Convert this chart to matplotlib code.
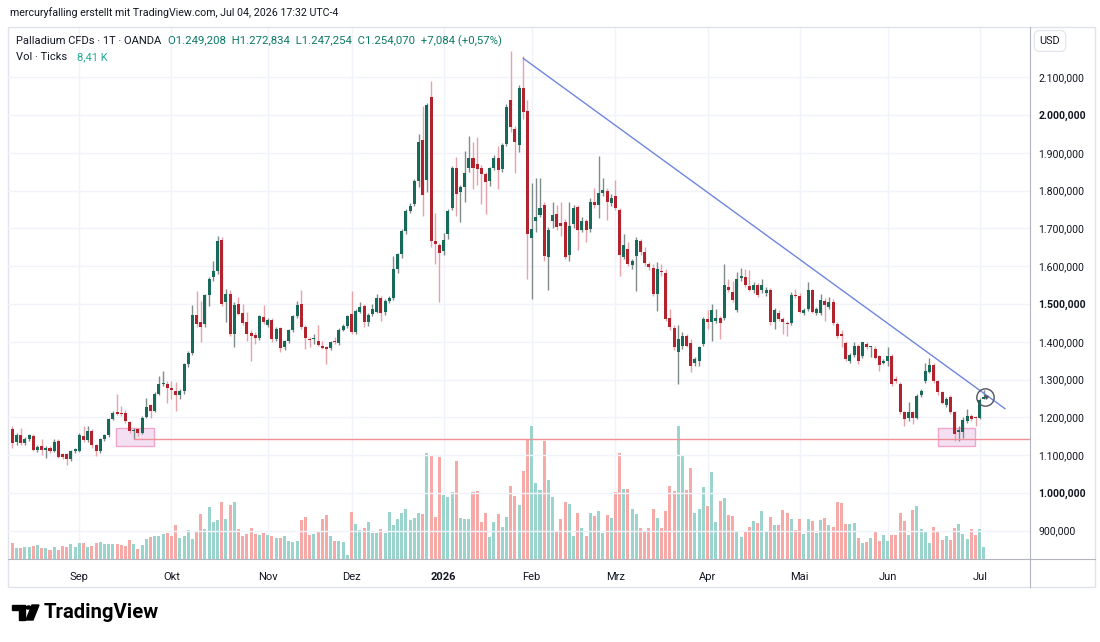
import numpy as np
import pandas as pd
import matplotlib
matplotlib.use("Agg")
import matplotlib.pyplot as plt
from matplotlib.patches import Rectangle, Circle, Polygon

plt.rcParams['font.family'] = ['Roboto', 'DejaVu Sans']

# Palladium CFD daily candles
opens = [1170, 1134, 1152, 1131, 1143, 1150, 1113, 1124, 1113, 1119,
         1112, 1137, 1102, 1102, 1089, 1111, 1112, 1150, 1139, 1165,
         1126, 1110, 1142, 1152, 1196, 1215, 1212, 1212, 1187, 1165,
         1168, 1159, 1201, 1232, 1217, 1263, 1287, 1289, 1277, 1270,
         1258, 1270, 1340, 1370, 1470, 1452, 1447, 1523, 1571, 1586,
         1668, 1505, 1527, 1421, 1500, 1476, 1452, 1424, 1417, 1410,
         1465, 1445, 1458, 1408, 1436, 1386, 1401, 1430, 1468, 1500,
         1440, 1408, 1408, 1403, 1390, 1386, 1383, 1402, 1397, 1432,
         1441, 1473, 1426, 1480, 1495, 1451, 1473, 1480, 1517, 1479,
         1508, 1515, 1592, 1632, 1694, 1747, 1764, 1826, 1934, 1829,
         2049, 1667, 1656, 1639, 1685, 1754, 1861, 1795, 1809, 1860,
         1885, 1870, 1861, 1844, 1826, 1859, 1885, 1856, 1923, 2039,
         1963, 1921, 2072, 2012, 1675, 1720, 1736, 1762, 1624, 1720,
         1737, 1713, 1718, 1630, 1711, 1756, 1697, 1720, 1698, 1771,
         1762, 1794, 1798, 1767, 1785, 1749, 1624, 1646, 1604, 1628,
         1667, 1637, 1606, 1595, 1526, 1586, 1581, 1463, 1436, 1374,
         1388, 1415, 1396, 1344, 1350, 1394, 1460, 1453, 1456, 1462,
         1463, 1544, 1531, 1483, 1568, 1571, 1547, 1536, 1551, 1536,
         1528, 1537, 1453, 1476, 1460, 1450, 1450, 1524, 1522, 1476,
         1487, 1537, 1476, 1476, 1509, 1491, 1506, 1447, 1421, 1397,
         1349, 1364, 1389, 1363, 1394, 1385, 1382, 1361, 1345, 1348,
         1363, 1301, 1289, 1214, 1197, 1213, 1199, 1259, 1295, 1321,
         1338, 1296, 1267, 1232, 1254, 1214, 1160, 1160, 1190, 1204,
         1199, 1199, 1249.2]
highs = [1177, 1159, 1172, 1147, 1157, 1155, 1128, 1142, 1124, 1124,
         1142, 1142, 1106, 1105, 1114, 1120, 1159, 1177, 1177, 1168,
         1130, 1146, 1156, 1199, 1218, 1261, 1230, 1220, 1190, 1172,
         1172, 1203, 1252, 1236, 1268, 1309, 1323, 1296, 1296, 1293,
         1274, 1345, 1375, 1496, 1533, 1509, 1527, 1572, 1613, 1681,
         1677, 1540, 1536, 1505, 1518, 1500, 1478, 1430, 1425, 1472,
         1498, 1462, 1463, 1440, 1440, 1405, 1434, 1472, 1507, 1536,
         1445, 1413, 1421, 1443, 1403, 1390, 1403, 1412, 1436, 1446,
         1472, 1535, 1486, 1504, 1500, 1475, 1500, 1526, 1522, 1512,
         1520, 1627, 1636, 1698, 1751, 1766, 1830, 1950, 2025, 2033,
         2091, 1742, 1662, 1689, 1750, 1866, 1888, 1815, 1906, 1945,
         1928, 1941, 1868, 1850, 1862, 1893, 1919, 1925, 2030, 2169,
         1970, 2079, 2155, 2039, 1820, 1834, 1834, 1770, 1705, 1771,
         1762, 1771, 1724, 1771, 1762, 1762, 1730, 1726, 1780, 1807,
         1892, 1834, 1807, 1790, 1829, 1755, 1684, 1664, 1620, 1678,
         1673, 1651, 1612, 1606, 1611, 1606, 1593, 1486, 1445, 1445,
         1425, 1420, 1407, 1360, 1390, 1465, 1483, 1500, 1487, 1468,
         1606, 1566, 1562, 1584, 1595, 1593, 1589, 1558, 1556, 1565,
         1545, 1542, 1490, 1483, 1465, 1455, 1531, 1540, 1528, 1490,
         1558, 1540, 1493, 1527, 1515, 1518, 1512, 1452, 1430, 1402,
         1370, 1398, 1395, 1400, 1400, 1389, 1389, 1365, 1355, 1385,
         1368, 1310, 1293, 1218, 1241, 1218, 1262, 1275, 1345, 1356,
         1345, 1300, 1270, 1253, 1258, 1218, 1177, 1202, 1221, 1208,
         1203, 1252, 1272.8]
lows = [1119, 1128, 1126, 1126, 1138, 1111, 1108, 1099, 1093, 1106,
        1108, 1092, 1090, 1075, 1085, 1105, 1108, 1135, 1134, 1120,
        1097, 1106, 1138, 1148, 1192, 1205, 1203, 1185, 1158, 1142,
        1150, 1155, 1198, 1199, 1213, 1258, 1282, 1239, 1248, 1218,
        1249, 1262, 1333, 1365, 1440, 1399, 1440, 1495, 1562, 1580,
        1495, 1452, 1415, 1386, 1470, 1445, 1403, 1350, 1394, 1405,
        1448, 1440, 1400, 1403, 1372, 1377, 1396, 1425, 1463, 1435,
        1381, 1386, 1394, 1388, 1380, 1341, 1377, 1395, 1392, 1428,
        1436, 1420, 1420, 1475, 1440, 1442, 1468, 1475, 1455, 1470,
        1503, 1510, 1583, 1622, 1685, 1742, 1758, 1809, 1733, 1795,
        1652, 1605, 1504, 1630, 1671, 1748, 1733, 1716, 1770, 1848,
        1804, 1815, 1764, 1738, 1812, 1854, 1804, 1850, 1918, 1955,
        1847, 1901, 1990, 1566, 1514, 1690, 1730, 1615, 1537, 1700,
        1695, 1680, 1620, 1615, 1700, 1642, 1690, 1664, 1690, 1755,
        1727, 1785, 1722, 1760, 1748, 1575, 1618, 1600, 1593, 1535,
        1630, 1600, 1590, 1520, 1481, 1575, 1455, 1430, 1378, 1288,
        1380, 1385, 1319, 1337, 1337, 1390, 1434, 1403, 1450, 1407,
        1458, 1532, 1505, 1480, 1562, 1545, 1533, 1530, 1518, 1530,
        1522, 1445, 1434, 1455, 1421, 1416, 1445, 1515, 1475, 1470,
        1482, 1475, 1470, 1470, 1456, 1486, 1445, 1410, 1385, 1348,
        1343, 1360, 1341, 1358, 1380, 1360, 1354, 1323, 1340, 1336,
        1284, 1290, 1208, 1177, 1190, 1182, 1195, 1254, 1290, 1316,
        1290, 1260, 1234, 1226, 1208, 1138, 1138, 1146, 1186, 1190,
        1177, 1195, 1247.3]
closes = [1133, 1152, 1133, 1143, 1152, 1113, 1122, 1113, 1119, 1112,
          1134, 1095, 1096, 1089, 1112, 1115, 1152, 1139, 1163, 1126,
          1111, 1142, 1152, 1196, 1212, 1210, 1208, 1190, 1164, 1165,
          1159, 1199, 1227, 1217, 1263, 1287, 1292, 1278, 1273, 1258,
          1270, 1340, 1370, 1470, 1447, 1440, 1523, 1567, 1586, 1666,
          1500, 1527, 1421, 1498, 1474, 1449, 1421, 1415, 1410, 1468,
          1452, 1458, 1408, 1434, 1383, 1401, 1430, 1468, 1498, 1440,
          1409, 1405, 1408, 1392, 1383, 1381, 1399, 1399, 1432, 1441,
          1468, 1426, 1482, 1491, 1453, 1470, 1486, 1517, 1477, 1508,
          1515, 1592, 1632, 1694, 1747, 1760, 1826, 1929, 1788, 2027,
          1667, 1660, 1636, 1669, 1745, 1861, 1791, 1809, 1846, 1885,
          1861, 1857, 1844, 1822, 1859, 1885, 1854, 1921, 2021, 1968,
          1928, 2072, 2008, 1684, 1698, 1729, 1753, 1628, 1695, 1736,
          1704, 1706, 1624, 1706, 1753, 1697, 1720, 1695, 1771, 1761,
          1794, 1801, 1770, 1780, 1754, 1630, 1655, 1606, 1615, 1669,
          1637, 1608, 1597, 1526, 1593, 1584, 1461, 1438, 1385, 1408,
          1414, 1390, 1335, 1354, 1385, 1460, 1453, 1485, 1462, 1450,
          1549, 1537, 1511, 1566, 1573, 1549, 1538, 1549, 1524, 1549,
          1537, 1453, 1484, 1459, 1452, 1447, 1524, 1521, 1480, 1485,
          1536, 1480, 1487, 1511, 1498, 1505, 1449, 1416, 1416, 1355,
          1364, 1389, 1348, 1398, 1385, 1385, 1358, 1338, 1349, 1363,
          1288, 1295, 1213, 1195, 1213, 1197, 1257, 1270, 1323, 1338,
          1296, 1266, 1239, 1248, 1213, 1155, 1166, 1192, 1204, 1195,
          1197, 1247, 1254.07]
# volume in ticks (relative bar heights as read)
volumes = [16, 11, 11, 12, 12, 13, 14, 11, 11, 9,
           12, 9, 13, 12, 15, 12, 16, 16, 12, 13,
           16, 17, 15, 15, 15, 15, 14, 13, 19, 15,
           10, 14, 20, 22, 23, 23, 25, 26, 23, 33,
           21, 23, 29, 20, 28, 44, 30, 51, 36, 38,
           56, 39, 53, 56, 30, 23, 25, 31, 25, 24,
           26, 24, 23, 21, 21, 23, 18, 17, 18, 38,
           41, 24, 25, 28, 39, 43, 23, 18, 18, 17,
           4, 46, 34, 29, 31, 36, 26, 26, 30, 26,
           46, 33, 39, 45, 49, 38, 40, 45, 44, 104,
           101, 41, 100, 63, 61, 66, 97, 40, 39, 39,
           66, 67, 36, 45, 22, 36, 44, 32, 41, 72,
           62, 53, 87, 117, 131, 75, 68, 116, 78, 61,
           27, 39, 56, 54, 23, 45, 31, 23, 45, 42,
           47, 26, 43, 40, 66, 104, 69, 69, 49, 44,
           31, 27, 31, 49, 40, 31, 47, 72, 67, 131,
           102, 68, 90, 45, 49, 71, 52, 86, 36, 57,
           60, 43, 42, 27, 22, 28, 32, 37, 35, 47,
           27, 41, 33, 33, 48, 45, 39, 29, 39, 25,
           39, 37, 26, 38, 40, 33, 32, 56, 55, 34,
           34, 35, 21, 16, 17, 21, 28, 18, 24, 18,
           24, 24, 45, 37, 24, 48, 52, 30, 28, 16,
           32, 27, 19, 23, 19, 31, 34, 25, 20, 30,
           24, 30, 12]

holidays = ['2025-12-25', '2026-01-01']
month_labels = {9: 'Sep', 10: 'Okt', 11: 'Nov', 12: 'Dez', 1: '2026', 2: 'Feb',
                3: 'Mrz', 4: 'Apr', 5: 'Mai', 6: 'Jun', 7: 'Jul'}
price_ticks = [900, 1000, 1100, 1200, 1300, 1400, 1500, 1600, 1700, 1800, 1900, 2000, 2100]

# drawings
support_level = 1142
support_from = 29
trend_x = [122, 237]
trend_y = [2150, 1223]
zone_bars = [(24.8, 33.8), (221.0, 229.9)]
zone_prices = (1123, 1172)
marker_bar, marker_price = 232.3, 1253

UP, DOWN = '#17695a', '#b3232e'
UP_WICK, DOWN_WICK = '#7f8c89', '#e6a3a9'
VOL_UP, VOL_DOWN = '#9bd4cd', '#f6aaa8'
GRID = '#f0f3fa'
TXT = '#131722'

W, H = 1100, 642
fig = plt.figure(figsize=(W / 100, H / 100), dpi=100)
fig.patch.set_facecolor('white')

dates = pd.bdate_range(end='2026-07-02', periods=len(closes), freq='C', holidays=holidays)
o = np.array(opens); c = np.array(closes); hi = np.array(highs); lo = np.array(lows)
idx = np.arange(len(c))
up = c >= o

ax = fig.add_axes([8 / W, 1 - 559 / H, (1030 - 8) / W, (559 - 27) / H])
axv = ax.twinx()
ax.set_zorder(axv.get_zorder() + 1)
ax.patch.set_visible(False)
axv.set_facecolor('white')

ax.set_xlim(-1.03, 243)
ax.set_ylim(825, 2233)
axv.set_ylim(0, max(volumes) * 4.0)

# month ticks at first trading day of each month
first_idx = [i for i in range(1, len(dates)) if dates[i].month != dates[i - 1].month]
ax.set_xticks(first_idx)
ax.set_xticklabels([month_labels[dates[i].month] for i in first_idx])
for lbl, i in zip(ax.get_xticklabels(), first_idx):
    if dates[i].month == 1:
        lbl.set_fontweight('bold')

# grid
for v in first_idx:
    axv.axvline(v, color=GRID, lw=1, zorder=0)
for p in price_ticks:
    ax.axhline(p, color=GRID, lw=1, zorder=0)

# volume
axv.bar(idx, volumes, width=0.72, color=np.where(up, VOL_UP, VOL_DOWN), zorder=1)
axv.set_yticks([])
axv.tick_params(length=0)

# candles
ax.vlines(idx, lo, hi, colors=np.where(up, UP_WICK, DOWN_WICK), lw=1, zorder=3)
body = np.maximum(np.abs(c - o), 2.5)
ax.bar(idx, body, bottom=np.minimum(o, c), width=0.72,
       color=np.where(up, UP, DOWN), zorder=4, linewidth=0)

# drawings
for x0, x1 in zone_bars:
    ax.add_patch(Rectangle((x0, zone_prices[0]), x1 - x0, zone_prices[1] - zone_prices[0],
                           facecolor='#f3e1f3', edgecolor='#f0a6c8', lw=1, zorder=2))
ax.plot([support_from, 243], [support_level, support_level], color='#ef8f98', lw=1, zorder=5)
ax.plot(trend_x, trend_y, color='#6f86e0', lw=1, zorder=5)
ax.plot([marker_bar], [marker_price], marker='o', ms=12.5, mfc='none', mec='#50535e',
        mew=1, zorder=6)
ax.annotate('', xy=(marker_bar - 0.8, marker_price + 11), xytext=(marker_bar + 0.9, marker_price - 5),
            arrowprops=dict(arrowstyle='-|>', color='#50535e', lw=0.8, mutation_scale=6), zorder=6)

for s in ['top', 'left', 'right', 'bottom']:
    ax.spines[s].set_visible(False)
    axv.spines[s].set_visible(False)

ax.yaxis.tick_right()
ax.set_yticks(price_ticks)
ax.set_yticklabels(['{:,.3f}'.format(p).replace(',', 'X').replace('.', ',').replace('X', '.')
                    for p in price_ticks])
for lbl, p in zip(ax.get_yticklabels(), price_ticks):
    if p % 500 == 0:
        lbl.set_fontweight('bold')
ax.tick_params(axis='y', length=0, pad=6, labelsize=7.6, labelcolor=TXT)
ax.tick_params(axis='x', length=0, pad=9, labelsize=8, labelcolor=TXT)

# frame lines
fig.add_artist(Rectangle((8 / W, 1 - 587 / H), (1095 - 8) / W, (587 - 27) / H,
                         transform=fig.transFigure, fill=False, edgecolor='#e0e3eb', lw=1))
fig.add_artist(plt.Line2D([1030 / W, 1030 / W], [1 - 27 / H, 1 - 587 / H],
                          transform=fig.transFigure, color='#b2b5be', lw=0.8))
fig.add_artist(plt.Line2D([8 / W, 1095 / W], [1 - 559 / H, 1 - 559 / H],
                          transform=fig.transFigure, color='#b2b5be', lw=0.8))

# header texts
fig.text(10 / W, 1 - 13 / H, 'mercuryfalling erstellt mit TradingView.com, Jul 04, 2026 17:32 UTC-4',
         fontsize=7.7, color=TXT, va='center', ha='left')
fig.text(16 / W, 1 - 41 / H, 'Palladium CFDs · 1T · OANDA', fontsize=8.0, color=TXT, va='center')
fig.text(168 / W, 1 - 41 / H, 'O1.249,208  H1.272,834  L1.247,254  C1.254,070  +7,084 (+0,57%)',
         fontsize=8.2, color='#0c7a66', va='center')
fig.text(16 / W, 1 - 57 / H, 'Vol · Ticks', fontsize=8.0, color=TXT, va='center')
fig.text(77 / W, 1 - 57 / H, '8,41 K', fontsize=8.0, color='#22ab94', va='center')

# USD box
fig.text(1050 / W, 1 - 41 / H, 'USD', fontsize=7.8, color=TXT, va='center', ha='center',
         bbox=dict(boxstyle='round,pad=0.5', facecolor='white', edgecolor='#e0e3eb', lw=0.8))

# TradingView logo
fig.add_artist(Polygon([(12 / W, 1 - 605 / H), (25 / W, 1 - 605 / H), (25 / W, 1 - 620 / H),
                        (19 / W, 1 - 620 / H), (19 / W, 1 - 610 / H), (12 / W, 1 - 610 / H)],
                       closed=True, transform=fig.transFigure, color='black'))
fig.add_artist(Circle((28.5 / W, 1 - 607.5 / H), 2.6 / W, transform=fig.transFigure, color='black'))
fig.add_artist(Polygon([(32 / W, 1 - 605 / H), (39 / W, 1 - 605 / H), (33 / W, 1 - 620 / H),
                        (26 / W, 1 - 620 / H)],
                       closed=True, transform=fig.transFigure, color='black'))
fig.text(44 / W, 1 - 613 / H, 'TradingView', fontsize=14.6, fontweight='bold', color='black',
         va='center', ha='left')

fig.savefig('out.png', dpi=100, facecolor='white')
